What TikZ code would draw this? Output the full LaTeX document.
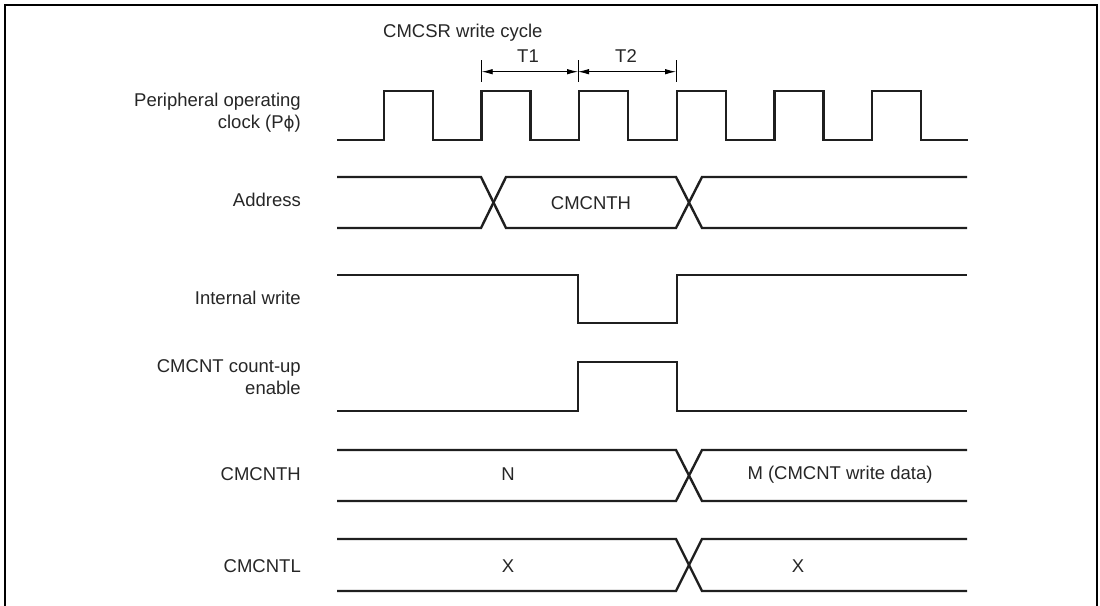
\documentclass[tikz,border=0pt]{standalone}
\usepackage{fontspec}
\setmainfont{Liberation Sans}
\newfontfamily\phifont{DejaVu Sans}[Scale=0.9]
\usetikzlibrary{arrows.meta}
\begin{document}
\begin{tikzpicture}[x=1pt,y=-1pt,
  sig/.style={line width=2.4pt, line join=miter, color=black!88},
  lbl/.style={font=\fontsize{18.5}{22}\selectfont, align=right, anchor=east, inner sep=0pt, text=black!85},
  txt/.style={font=\fontsize{18.5}{22}\selectfont, inner sep=0pt, text=black!85},
  dimline/.style={line width=0.9pt, {Latex[length=11pt,width=5.5pt]}-{Latex[length=11pt,width=5.5pt]}},
  tickline/.style={line width=0.9pt}]
\useasboundingbox (0,0) rectangle (1100,605);
\draw[line width=2pt] (5,607) -- (5,5) -- (1097,5) -- (1097,607);

% labels
\node[lbl] (lclk) at (301,113) {Peripheral operating\\clock (P{\phifont ϕ})};
\node[lbl] (ladr) at (301,200) {Address};
\node[lbl] (liw) at (301,298) {Internal write};
\node[lbl] (lcue) at (301,377) {CMCNT count-up\\enable};
\node[lbl] (lcnh) at (301,474) {CMCNTH};
\node[lbl] (lcnl) at (301,566) {CMCNTL};

% title and cycle marks
\node[txt, anchor=base west] (title) at (383,37.5) {CMCSR write cycle};
\coordinate (t0) at (481.7,71.7);
\coordinate (t1) at (578,71.7);
\coordinate (t2) at (676,71.7);
\draw[tickline] (481.7,60) -- (481.7,82);
\draw[tickline] (578,60) -- (578,82);
\draw[tickline] (676,60) -- (676,82);
\draw[dimline] (t0) -- (t1);
\draw[dimline] (t1) -- (t2);
\node[txt, anchor=base] (T1) at (528,62.5) {T1};
\node[txt, anchor=base] (T2) at (626,62.5) {T2};

% clock
\draw[sig] (337,140) foreach \i in {0,...,5} {
  -- ({384+97.6*\i},140) -- ({384+97.6*\i},91) -- ({433+97.6*\i},91) -- ({433+97.6*\i},140)
} -- (968,140);

% address
\draw[sig] (337,177) -- (481,177) -- (506,228) -- (676,228) -- (702,177) -- (967,177);
\draw[sig] (337,228) -- (481,228) -- (506,177) -- (676,177) -- (702,228) -- (967,228);
\node[txt] (vadr) at (591,203) {CMCNTH};

% internal write
\draw[sig] (337,275) -- (578,275) -- (578,323) -- (677,323) -- (677,275) -- (967,275);

% count-up enable
\draw[sig] (337,411) -- (578,411) -- (578,362) -- (677,362) -- (677,411) -- (967,411);

% CMCNTH
\draw[sig] (337,450) -- (676,450) -- (702,501) -- (967,501);
\draw[sig] (337,501) -- (676,501) -- (702,450) -- (967,450);
\node[txt] (vn) at (508,474) {N};
\node[txt] (vm) at (840,475) {M (CMCNT write data)};

% CMCNTL
\draw[sig] (337,539) -- (676,539) -- (702,591) -- (967,591);
\draw[sig] (337,591) -- (676,591) -- (702,539) -- (967,539);
\node[txt] (vx1) at (508,566) {X};
\node[txt] (vx2) at (798,566) {X};
\end{tikzpicture}
\end{document}
